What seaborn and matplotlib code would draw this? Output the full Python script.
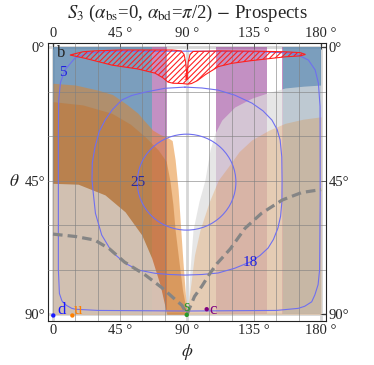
import matplotlib

matplotlib.use("Agg")
import matplotlib.pyplot as plt
import seaborn as sns
from matplotlib.patches import Ellipse

# ---- data (phi, theta in degrees) ----
PHI_TICKS = [0, 45, 90, 135, 180]
PHI_TICK_LABELS = ["0", "45 °", "90 °", "135 °", "180 °"]
THETA_TICKS = [0, 45, 90]
THETA_TICK_LABELS = ["0°", "45°", "90°"]
PHI_GRID = [15, 30, 45, 60, 75, 105, 120, 135, 150, 165]
THETA_GRID = [15, 30, 45, 60, 75]
PHI_FRAME_LINES = [0, 90, 180]
THETA_FRAME_LINES = [0, 90]

# vertical bands (phi ranges) covering the full theta range
BLUE_SPANS = [(0, 66.3), (154.7, 180)]
PURPLE_SPANS = [(66.3, 76.3), (109.3, 143.5), (153.6, 154.7)]

# region boundaries: region lies below (larger theta than) the curve
U_OUTER_PHI = [0, 15, 30, 40, 50, 57, 62, 67, 72, 77, 80, 82, 84, 85.8, 87.2, 88.7, 90]
U_OUTER_THETA = [12.2, 12.8, 14.5, 16.0, 19.5, 22.3, 25.2, 28.0, 29.5, 30.5, 31.5, 38, 48, 61.6, 72, 82, 90]
U_INNER_PHI = [0, 20, 39.4, 52, 61.8, 70.7, 76, 78.5, 80.5, 82, 84.5, 87, 90]
U_INNER_THETA = [18.4, 19.5, 22.3, 26.0, 30.2, 34.7, 38.5, 45, 53, 61.6, 72, 82, 90]
D_LEFT_PHI = [0, 16.9, 34.9, 48.4, 59.6, 66.3, 71.9, 76.4]
D_LEFT_THETA = [45.9, 46.2, 49.8, 55.5, 63.3, 71.1, 80.1, 90]
D_RIGHT_PHI = [90, 90.5, 92, 94, 98, 102, 105.4, 108.8, 113.3, 122, 133.6, 145, 155.8, 168, 180]
D_RIGHT_THETA = [90, 88, 75, 61.6, 52, 44.8, 34.7, 29.0, 24.6, 20.2, 17.2, 15.3, 13.8, 13.2, 12.8]
T_RIGHT_PHI = [90, 90.7, 92.5, 95, 98.7, 105, 111, 117.7, 125, 133.4, 145, 155.8, 168, 180]
T_RIGHT_THETA = [90, 87, 80, 70, 61.6, 52, 44.8, 40.3, 35.2, 31.3, 28.0, 25.7, 24.3, 23.5]

# red hatched region "1"
HATCH_PHI = [11.4, 20, 28, 45, 62, 80, 86, 88, 89, 89.6, 89.9, 90.2, 90.8, 92, 94, 111, 135, 156, 166,
             169.5, 166, 156, 133, 120, 111, 102, 97, 93, 90.5, 87, 80.6, 77.2, 73.9, 68.5, 57, 39.6, 21.5, 11.4]
HATCH_THETA = [2.7, 1.6, 1.3, 1.0, 1.0, 1.0, 1.3, 2.5, 5, 8, 11, 8, 5, 2.5, 1.5, 1.3, 1.4, 1.6, 1.9,
               2.5, 3.0, 3.3, 4.6, 5.5, 6.6, 9.4, 11.3, 12.3, 12.5, 12.3, 12.2, 11.8, 10.4, 8.8, 7.4, 6.1, 3.8, 2.7]

# contour lines
C5_PHI = [3.6, 3.6, 3.8, 5.0, 8.0, 14.8, 23.5, 40, 90, 140, 158, 164.7, 171.5, 176, 178.2, 179.3, 179.4,
          179.0, 178.0, 175.8, 173.7, 169, 164.7, 150, 90, 30, 15, 12.6, 9, 6, 4.3, 3.6, 3.6]
C5_THETA = [60, 30, 18, 12, 7.7, 3.7, 2.0, 1.5, 1.4, 1.6, 2.0, 2.7, 4.4, 7.7, 12.2, 20, 50,
            75, 80, 83.5, 85.8, 87.3, 88.0, 88.7, 88.9, 88.7, 88.3, 88.0, 87.0, 85.5, 83, 75, 60]
C18_PHI = [88.6, 100, 110.8, 122, 133.6, 141, 147, 150.5, 152.5, 153.6, 153.8, 153.7, 152.8, 151, 148, 144.4,
           139, 132.3, 122, 110.8, 100, 88.6, 78, 68.5, 57.3, 48.4, 39.4, 32.7, 28.5, 27, 26.2, 26.4, 28.2,
           31, 35, 40, 46.3, 53, 61.8, 75.2, 88.6]
C18_THETA = [13.5, 13.8, 14.5, 16.2, 18.9, 21.5, 24.6, 27.8, 31.3, 37, 44.8, 52, 57, 61, 64.8, 67.7,
             70.2, 72.4, 74.5, 76.1, 76.6, 76.8, 76.6, 76.2, 75.1, 72.8, 68.9, 63.3, 56, 49, 44.8, 39, 33.7,
             28.5, 24.6, 21, 17.8, 16.3, 15.2, 13.9, 13.5]
C25_CENTER = (89.7, 45.5)
C25_WIDTH = 66.2
C25_HEIGHT = 32.3

# dashed gray curves
DASH_LEFT_PHI = [0, 15, 28, 38, 48, 62, 73, 82, 86.6, 90]
DASH_LEFT_THETA = [63, 63.8, 65, 68, 72.4, 76.8, 81, 85, 87, 90]
DASH_RIGHT_PHI = [90, 95, 100, 105, 110, 119, 129, 140, 154, 167, 180]
DASH_RIGHT_THETA = [90, 84, 80.5, 76.5, 73, 68, 61, 56, 51.5, 49, 48]

# quark points
POINT_NAMES = ["d", "u", "s", "c"]
POINT_PHI = [0.2, 13, 89.8, 103.2]
POINT_THETA = [90.4, 90.4, 90.2, 88.3]
POINT_COLORS = ["#1a1aff", "#ff8000", "#2a9a2a", "#800080"]

sns.set_theme(style="white")
plt.rcParams["font.family"] = ["Liberation Serif", "DejaVu Serif"]
plt.rcParams["mathtext.fontset"] = "stix"
plt.rcParams["hatch.color"] = "#ff2020"
plt.rcParams["hatch.linewidth"] = 0.8

fig = plt.figure(figsize=(3.74, 3.65), dpi=100)
ax = fig.add_axes([48 / 374, 44 / 365, 278 / 374, 278 / 365])

for p in PHI_FRAME_LINES:
    ax.axvline(p, color="#d6d6d6", lw=2, zorder=0.5)
for t in THETA_FRAME_LINES:
    ax.axhline(t, color="#d6d6d6", lw=2, zorder=0.5)

for lo, hi in BLUE_SPANS:
    ax.fill_between([lo, hi], [0, 0], [90, 90], color="#5a86ad", alpha=0.8, lw=0, zorder=1)
for lo, hi in PURPLE_SPANS:
    ax.fill_between([lo, hi], [0, 0], [90, 90], color="#933593", alpha=0.55, lw=0, zorder=2)

ax.fill_between(U_OUTER_PHI, U_OUTER_THETA, 90, color="#e5821f", alpha=0.5, lw=0, zorder=3)
ax.fill_between(U_INNER_PHI, U_INNER_THETA, 90, color="#c27430", alpha=0.5, lw=0, zorder=4)
ax.fill_between(D_LEFT_PHI, D_LEFT_THETA, 90, color="#dcdcdc", alpha=0.7, lw=0, zorder=5)
ax.fill_between(D_RIGHT_PHI, D_RIGHT_THETA, 90, color="#dcdcdc", alpha=0.7, lw=0, zorder=5)
ax.fill_between(T_RIGHT_PHI, T_RIGHT_THETA, 90, color="#e5821f", alpha=0.25, lw=0, zorder=6)

for p in PHI_GRID:
    ax.axvline(p, color="#808080", lw=0.7, alpha=0.6, zorder=7)
for t in THETA_GRID:
    ax.axhline(t, color="#808080", lw=0.7, alpha=0.6, zorder=7)

contour_color = "#6f6ff0"
sns.lineplot(x=C5_PHI, y=C5_THETA, sort=False, estimator=None, color=contour_color, lw=0.8, ax=ax, zorder=8)
sns.lineplot(x=C18_PHI, y=C18_THETA, sort=False, estimator=None, color=contour_color, lw=0.8, ax=ax, zorder=8)
ax.add_patch(Ellipse(C25_CENTER, C25_WIDTH, C25_HEIGHT, fill=False, ec=contour_color, lw=0.8, zorder=8))

sns.lineplot(x=DASH_LEFT_PHI, y=DASH_LEFT_THETA, sort=False, estimator=None, color="#858585",
             lw=2.3, ax=ax, zorder=8.5, linestyle=(0, (3, 1.6)))
sns.lineplot(x=DASH_RIGHT_PHI, y=DASH_RIGHT_THETA, sort=False, estimator=None, color="#858585",
             lw=2.3, ax=ax, zorder=8.5, linestyle=(0, (3, 1.6)))

ax.fill(HATCH_PHI, HATCH_THETA, facecolor="none", edgecolor="#ff2020", hatch="//////", lw=0.8, zorder=9)

ax.text(5.4, 1.9, "b", fontsize=12, ha="center", va="center", zorder=10)
ax.text(6.7, 8.7, "5", fontsize=11, color="#2020e0", ha="center", va="center", zorder=10)
ax.text(57, 45.5, "25", fontsize=11, color="#2a2a9a", ha="center", va="center", zorder=10)
ax.text(132.3, 72.4, "18", fontsize=11, color="#2020e0", ha="center", va="center", zorder=10)
ax.text(89.3, 10.3, "1", fontsize=8, color="#ff2020", ha="center", va="center", zorder=10)

sns.scatterplot(x=POINT_PHI, y=POINT_THETA, hue=POINT_NAMES, palette=POINT_COLORS, s=10,
                linewidth=0, legend=False, ax=ax, zorder=11, clip_on=False)
label_offsets = [(5.5, -1.8), (4, -1.8), (0, -2.5), (4.5, 0.2)]
for name, p, t, c, (dx, dt) in zip(POINT_NAMES, POINT_PHI, POINT_THETA, POINT_COLORS, label_offsets):
    ax.text(p + dx, t + dt, name, fontsize=12, color=c, ha="center", va="center", zorder=11)

ax.set_xlim(-3.36, 183.3)
ax.set_ylim(92.26, -1.35)
ax.set_xticks(PHI_TICKS, PHI_TICK_LABELS)
ax.set_yticks(THETA_TICKS, THETA_TICK_LABELS)
ax.tick_params(which="both", direction="in", top=True, right=True, labeltop=True, labelright=True,
               length=4, width=0.7, color="#333333", labelsize=10.5, pad=2)
for spine in ax.spines.values():
    spine.set_color("#222222")
    spine.set_linewidth(0.8)
ax.set_xlabel("")
ax.set_ylabel("")

fig.text(187 / 374, 1 - 352 / 365, r"$\phi$", fontsize=12.5, ha="center", va="center")
fig.text(14 / 374, 1 - 182 / 365, r"$\theta$", fontsize=12.5, ha="center", va="center")
fig.text(0.5, 1 - 13 / 365,
         r"$S_3$ ($\alpha_{\mathrm{bs}}$=0, $\alpha_{\mathrm{bd}}$=$\pi$/2) $-$ Prospects",
         fontsize=13.5, ha="center", va="center")

fig.savefig("out.png", dpi=100)
plt.close(fig)
